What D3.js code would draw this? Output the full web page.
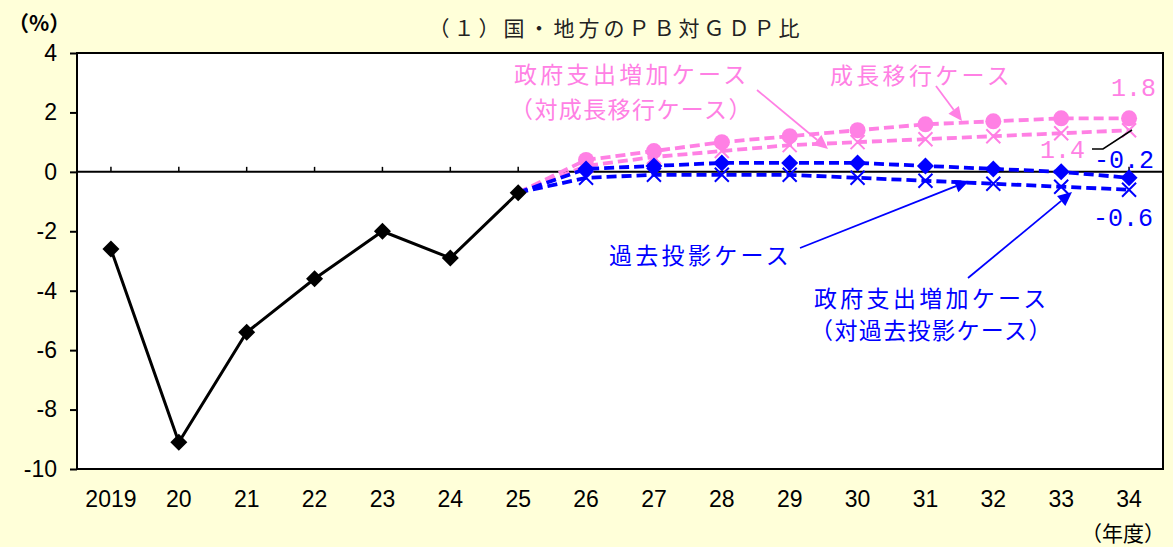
<html>
<head>
<meta charset="utf-8">
<script src="https://d3js.org/d3.v7.min.js"></script>
<style>
  body { margin: 0; background: #ffffd9; }
  svg { display: block; }
  .num { font-family: "Liberation Sans Narrow", "Liberation Sans", Arial, sans-serif; font-size: 23px; fill: #000; }
  .jp { font-family: "Noto Sans CJK JP", sans-serif; }
  .lbl { font-family: "Liberation Mono", monospace; font-size: 25px; }
</style>
</head>
<body>
<svg id="chart" width="1173" height="547"></svg>
<script>
// fiscal years (x categories)
var years = ["2019","20","21","22","23","24","25","26","27","28","29","30","31","32","33","34"];
var projYears = ["25","26","27","28","29","30","31","32","33","34"];

// actual primary balance (% of GDP)
var actual = [-2.6, -9.1, -5.4, -3.6, -2.0, -2.9, -0.7];

// projections start from 25 (-0.7)
var growthCase      = [-0.7, 0.4, 0.7, 1.0, 1.2, 1.4, 1.6, 1.7, 1.8, 1.8];   // 成長移行ケース
var growthSpendCase = [-0.7, 0.2, 0.5, 0.7, 0.9, 1.0, 1.1, 1.2, 1.3, 1.4];   // 政府支出増加（対成長移行）
var baseCase        = [-0.7, 0.1, 0.2, 0.3, 0.3, 0.3, 0.2, 0.1, 0.0, -0.2];  // 過去投影ケース
var baseSpendCase   = [-0.7, -0.2, -0.1, -0.1, -0.1, -0.2, -0.3, -0.4, -0.5, -0.6]; // 政府支出増加（対過去投影）

var yTicks = [4, 2, 0, -2, -4, -6, -8, -10];

var pink = "#ff80e4", blue = "#0000ff";
var svg = d3.select("#chart");

var pl = 77, pr = 1163, pt = 53, pb = 469;
var x = d3.scaleBand().domain(years).range([pl, pr]);
var y = d3.scaleLinear().domain([-10, 4]).range([pb, pt]);
function cx(d) { return x(d) + x.bandwidth() / 2; }

// plot area
svg.append("rect").attr("x", pl).attr("y", pt).attr("width", pr - pl).attr("height", pb - pt)
  .attr("fill", "#fff").attr("stroke", "#000").attr("stroke-width", 2);

// y axis
var ya = svg.append("g").attr("transform", "translate(" + pl + ",0)")
  .call(d3.axisLeft(y).tickValues(yTicks).tickSize(7).tickPadding(13).tickFormat(function (d) { return d < 0 ? "-" + (-d) : d; }));
ya.select(".domain").remove();
ya.attr("font-size", null).attr("font-family", null);
ya.selectAll("line").attr("stroke", "#000").attr("stroke-width", 2);
ya.selectAll("text").attr("class", "num");

// x labels
var xa = svg.append("g").attr("transform", "translate(0," + pb + ")")
  .call(d3.axisBottom(x).tickSize(0).tickPadding(22));
xa.select(".domain").remove();
xa.attr("font-size", null).attr("font-family", null);
xa.selectAll("text").attr("class", "num");

// zero line with small ticks
svg.append("line").attr("x1", pl).attr("x2", pr).attr("y1", y(0)).attr("y2", y(0))
  .attr("stroke", "#000").attr("stroke-width", 2);
svg.append("g").selectAll("line").data(years).join("line")
  .attr("x1", cx).attr("x2", cx).attr("y1", y(0)).attr("y2", y(0) - 5)
  .attr("stroke", "#000").attr("stroke-width", 1.5);

var line = d3.line().x(function (d) { return cx(d[0]); }).y(function (d) { return y(d[1]); });
function pairs(ks, vs) { return ks.map(function (k, i) { return [k, vs[i]]; }); }

function dashed(vals, color) {
  svg.append("path").datum(pairs(projYears, vals)).attr("d", line)
    .attr("fill", "none").attr("stroke", color).attr("stroke-width", 3.8).attr("stroke-dasharray", "10,5");
}
function crosses(vals, color) {
  svg.append("g").selectAll("path").data(pairs(projYears, vals).slice(1)).join("path")
    .attr("d", function (d) { var a = cx(d[0]), b = y(d[1]), s = 7;
      return "M" + (a - s) + "," + (b - s) + "L" + (a + s) + "," + (b + s) + "M" + (a - s) + "," + (b + s) + "L" + (a + s) + "," + (b - s); })
    .attr("stroke", color).attr("stroke-width", 2).attr("fill", "none");
}
function diamonds(ks, vals, color, skipFirst) {
  var p = pairs(ks, vals); if (skipFirst) p = p.slice(1);
  svg.append("g").selectAll("path").data(p).join("path")
    .attr("d", function (d) { var a = cx(d[0]), b = y(d[1]), s = 8.5;
      return "M" + a + "," + (b - s) + "L" + (a + s) + "," + b + "L" + a + "," + (b + s) + "L" + (a - s) + "," + b + "Z"; })
    .attr("fill", color);
}

// pink series
dashed(growthSpendCase, pink);
dashed(growthCase, pink);
crosses(growthSpendCase, pink);
svg.append("g").selectAll("circle").data(pairs(projYears, growthCase).slice(1)).join("circle")
  .attr("cx", function (d) { return cx(d[0]); }).attr("cy", function (d) { return y(d[1]); })
  .attr("r", 8).attr("fill", pink);

// blue series
dashed(baseSpendCase, blue);
dashed(baseCase, blue);
crosses(baseSpendCase, blue);
diamonds(projYears, baseCase, blue, true);

// actual
svg.append("path").datum(pairs(years.slice(0, 7), actual)).attr("d", line)
  .attr("fill", "none").attr("stroke", "#000").attr("stroke-width", 3);
diamonds(years.slice(0, 7), actual, "#000", false);

// arrows
function arrow(x1, y1, x2, y2, color) {
  var ang = Math.atan2(y2 - y1, x2 - x1), L = 14, W = 6.5;
  var bx = x2 - L * Math.cos(ang), by = y2 - L * Math.sin(ang);
  svg.append("line").attr("x1", x1).attr("y1", y1).attr("x2", bx).attr("y2", by)
    .attr("stroke", color).attr("stroke-width", 1.8);
  svg.append("path").attr("fill", color).attr("d",
    "M" + x2 + "," + y2 +
    "L" + (bx + W * Math.sin(ang)) + "," + (by - W * Math.cos(ang)) +
    "L" + (bx - W * Math.sin(ang)) + "," + (by + W * Math.cos(ang)) + "Z");
}
arrow(757, 90, 828, 149, pink);
arrow(936, 86, 962, 121, pink);
arrow(800, 248, 969, 181, blue);
arrow(968, 278, 1072, 192, blue);

// leader for 1.4
svg.append("polyline").attr("points", "1092,149 1103,149 1132,130")
  .attr("fill", "none").attr("stroke", "#000").attr("stroke-width", 1.5);

// annotation texts
function jtext(t, xx, yy, color, size, sp) {
  svg.append("text").attr("class", "jp").attr("x", xx).attr("y", yy).attr("dominant-baseline", "central")
    .attr("font-size", size).attr("letter-spacing", sp).attr("fill", color).text(t);
}
jtext("政府支出増加ケース", 514, 73, pink, 23, 3.3);
jtext("（対成長移行ケース）", 510, 108, pink, 23, 1.4);
jtext("成長移行ケース", 830, 74, pink, 23, 3.3);
jtext("過去投影ケース", 609, 254, blue, 23, 3.3);
jtext("政府支出増加ケース", 814, 297, blue, 23, 3.3);
jtext("（対過去投影ケース）", 810, 329, blue, 23, 1.4);

function ntext(t, xx, yy, color) {
  svg.append("text").attr("class", "lbl").attr("x", xx).attr("y", yy).attr("fill", color).text(t);
}
ntext("1.8", 1111, 96, pink);
ntext("1.4", 1040, 158, pink);
ntext("-0.2", 1094, 168, blue);
ntext("-0.6", 1093, 226, blue);

// title and units
svg.append("text").attr("class", "jp").attr("x", 616).attr("y", 27).attr("text-anchor", "middle")
  .attr("dominant-baseline", "central").attr("font-size", 21).attr("letter-spacing", 4).attr("fill", "#222")
  .text("（１）国・地方のＰＢ対ＧＤＰ比");
svg.append("text").attr("class", "jp").attr("x", 8).attr("y", 22).attr("dominant-baseline", "central")
  .attr("font-size", 21).attr("font-weight", "bold").attr("fill", "#000").text("（%）");
svg.append("text").attr("class", "jp").attr("x", 1165).attr("y", 532).attr("text-anchor", "end")
  .attr("dominant-baseline", "central").attr("font-size", 21).attr("fill", "#000").text("（年度）");
</script>
</body>
</html>
